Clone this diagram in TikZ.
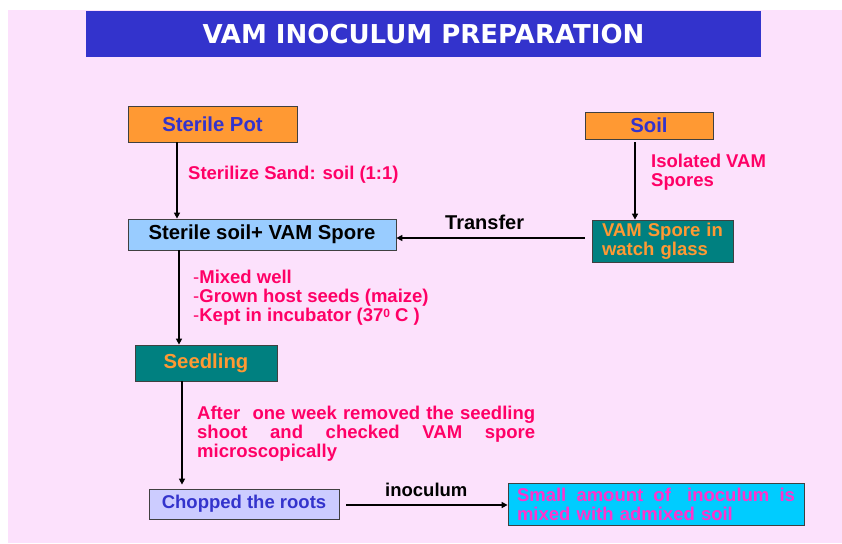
\documentclass[tikz,border=0pt]{standalone}
\usepackage{fontspec}
\setmainfont{Liberation Sans}
\newfontfamily\titlefont{DejaVu Sans}
\usetikzlibrary{arrows.meta}
\definecolor{bgpink}{HTML}{FCE1FC}
\definecolor{barblue}{HTML}{3333CC}
\definecolor{potorange}{HTML}{FF9933}
\definecolor{sporeblue}{HTML}{99CCFF}
\definecolor{tealbox}{HTML}{008080}
\definecolor{rootblue}{HTML}{CCCCFF}
\definecolor{cyanbox}{HTML}{00CCFF}
\definecolor{notered}{HTML}{FF0066}
\definecolor{mixpink}{HTML}{FF33CC}
\tikzset{
  stepbox/.style={draw=black!75, line width=0.8pt, inner sep=0pt,
    font=\bfseries\fontsize{20.3}{22}\selectfont},
  note/.style={inner sep=0pt, text=notered, align=left,
    font=\bfseries\fontsize{18.5}{19}\selectfont},
  arr/.style={line width=1.5pt, -{Triangle[length=6pt,width=6pt]}}
}
\begin{document}
\begin{tikzpicture}[x=1pt,y=-1pt]
  \useasboundingbox (0,0) rectangle (842,543);
  \fill [bgpink] (8,10) rectangle (842,543);
  % title bar
  \node [fill=barblue, minimum width=675pt, minimum height=46pt, inner sep=0pt,
    text=white, font=\titlefont\bfseries\fontsize{26}{28}\selectfont] (title) at (423.5,34) {VAM INOCULUM PREPARATION};
  % boxes
  \node [stepbox, fill=potorange, text=barblue, minimum width=169pt, minimum height=36pt] (pot) at (212.5,124) {Sterile Pot};
  \node [stepbox, fill=sporeblue, minimum width=268pt, minimum height=31pt] (mix) at (262,234.5) {Sterile soil+ VAM Spore};
  \node [stepbox, fill=potorange, text=barblue, minimum width=128pt, minimum height=27pt] (soil) at (649,125.5) {Soil};
  \node [stepbox, fill=tealbox, text=potorange, minimum width=141pt, minimum height=42pt,
    inner xsep=10pt, text width=121pt, align=left, font=\bfseries\fontsize{18.5}{19}\selectfont] (glass) at (662.5,241) {VAM Spore in\\watch glass};
  \node [stepbox, fill=tealbox, text=potorange, minimum width=142pt, minimum height=36pt] (seedling) at (206,363) {Seedling};
  \node [stepbox, fill=rootblue, text=barblue, minimum width=190pt, minimum height=30pt,
    font=\bfseries\fontsize{18.5}{19}\selectfont] (roots) at (244,504) {Chopped the roots};
  \node [stepbox, fill=cyanbox, text=mixpink, minimum width=296pt, minimum height=42pt,
    inner xsep=9pt, text width=278pt, align=left, font=\bfseries\fontsize{18.5}{19}\selectfont] (small) at (656,504)
    {\makebox[278pt][s]{Small\hfill amount\hfill of\hfill\ inoculum\hfill is}\\mixed with admixed soil};
  % connectors
  \coordinate (c1) at (177,0);
  \coordinate (c2) at (179,0);
  \coordinate (c3) at (182,0);
  \coordinate (c4) at (635,0);
  \draw [arr] (c1 |- pot.south) -- (c1 |- mix.north);
  \draw [arr] (c2 |- mix.south) -- (c2 |- seedling.north);
  \draw [arr, shorten >=4pt] (c3 |- seedling.south) -- (c3 |- roots.north);
  \draw [arr, shorten <=3pt] (c4 |- soil.south) -- (c4 |- glass.north);
  \draw [arr, shorten <=7pt] (glass.west |- 0,238) -- (mix.east |- 0,238);
  \draw [arr, shorten <=7pt] (roots.east |- 0,505) -- (small.west |- 0,505);
  % labels
  \node [note, anchor=base west] (lsand) at (188,179) {Sterilize Sand: soil (1:1)};
  \node [note, anchor=north west] (liso) at (651,153.5) {Isolated VAM\\Spores};
  \node [note, anchor=north west] (lmix) at (193,269.5) {\mdseries-\bfseries Mixed well\\\mdseries-\bfseries Grown host seeds (maize)\\\mdseries-\bfseries Kept in incubator (37{\fontsize{12}{12}\selectfont\raisebox{4pt}{0}} C )};
  \node [note, anchor=north west] (lweek) at (197,405.5) {\makebox[338pt][s]{After\ \ one week removed the seedling}\\\makebox[338pt][s]{shoot\hfill and\hfill checked\hfill VAM\hfill spore}\\microscopically};
  \node [note, text=black, anchor=base west, font=\bfseries\fontsize{20}{22}\selectfont] (ltransfer) at (445,229) {Transfer};
  \node [note, text=black, anchor=base west] (linoc) at (385,496) {inoculum};
\end{tikzpicture}
\end{document}
